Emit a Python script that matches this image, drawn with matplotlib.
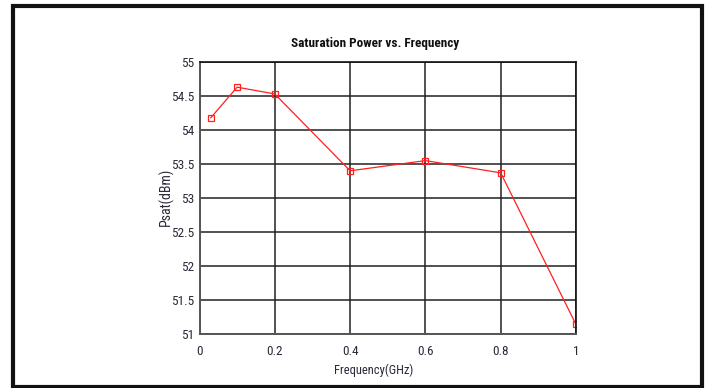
import matplotlib.pyplot as plt
from matplotlib.patches import Rectangle

FREQ_GHZ = [0.03, 0.1, 0.2, 0.4, 0.6, 0.8, 1.0]
PSAT_DBM = [54.18, 54.63, 54.53, 53.40, 53.55, 53.37, 51.14]
X_TICKS = [0, 0.2, 0.4, 0.6, 0.8, 1]
X_TICK_LABELS = ["0", "0.2", "0.4", "0.6", "0.8", "1"]
Y_TICKS = [51, 51.5, 52, 52.5, 53, 53.5, 54, 54.5, 55]
Y_TICK_LABELS = ["51", "51.5", "52", "52.5", "53", "53.5", "54", "54.5", "55"]

NARROW = ["DejaVu Sans Condensed", "Roboto Condensed", "Roboto", "DejaVu Sans"]
plt.rcParams["font.family"] = NARROW

W, H = 708, 388
fig = plt.figure(figsize=(W / 100, H / 100), dpi=100)

# outer black frame
fig.patches.append(Rectangle((12.5 / W, 1 - 386.5 / H), (702 - 12.5) / W, (386.5 - 5.5) / H,
                             transform=fig.transFigure, fill=False,
                             edgecolor="#111111", linewidth=3.0))

ax = fig.add_axes([199.5 / W, 1 - 334 / H, (576 - 199.5) / W, (334 - 62) / H])
ax.plot(FREQ_GHZ, PSAT_DBM, color="#ff2020", linewidth=0.9,
        marker="s", markersize=4, markerfacecolor="none",
        markeredgecolor="#ff2020", markeredgewidth=0.9)

ax.set_xlim(0, 1)
ax.set_ylim(51, 55)
ax.set_xticks(X_TICKS)
ax.set_xticklabels(X_TICK_LABELS)
ax.set_yticks(Y_TICKS)
ax.set_yticklabels(Y_TICK_LABELS)
ax.tick_params(axis="both", length=0, labelsize=9.5, colors="#2a2a3a")
ax.tick_params(axis="x", pad=8)
ax.tick_params(axis="y", pad=4)
ax.grid(True, color="#222222", linewidth=1.1)
ax.set_axisbelow(True)
for side in ["left", "bottom"]:
    ax.spines[side].set_color("#555555")
    ax.spines[side].set_linewidth(1.4)
for side in ["top", "right"]:
    ax.spines[side].set_color("#111111")
    ax.spines[side].set_linewidth(1.2)

fig.text(375 / W, 1 - 43 / H, "Saturation Power vs. Frequency",
         ha="center", va="center", fontsize=9.5, fontweight="bold",
         color="#111111")
fig.text(374 / W, 1 - 370 / H, "Frequency(GHz)", ha="center", va="center",
         fontsize=9, color="#2a2a3a")
fig.text(166 / W, 1 - 197 / H, "Psat(dBm)", ha="center", va="center",
         rotation=90, fontsize=10, color="#2a2a3a")

fig.savefig("out.png", dpi=100)
